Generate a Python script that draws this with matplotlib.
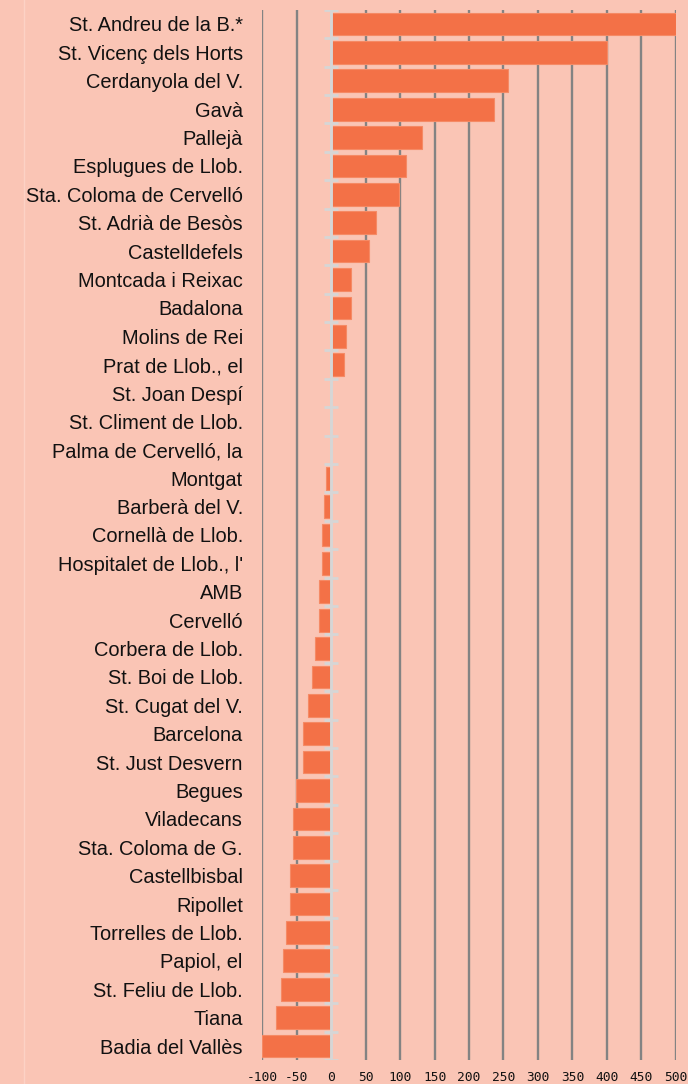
import matplotlib
matplotlib.use('Agg')
import matplotlib.pyplot as plt
from matplotlib.lines import Line2D
import numpy as np

# Municipalities, top to bottom
municipis = [
    "St. Andreu de la B.*", "St. Vicenç dels Horts", "Cerdanyola del V.", "Gavà",
    "Pallejà", "Esplugues de Llob.", "Sta. Coloma de Cervelló", "St. Adrià de Besòs",
    "Castelldefels", "Montcada i Reixac", "Badalona", "Molins de Rei",
    "Prat de Llob., el", "St. Joan Despí", "St. Climent de Llob.", "Palma de Cervelló, la",
    "Montgat", "Barberà del V.", "Cornellà de Llob.", "Hospitalet de Llob., l'",
    "AMB", "Cervelló", "Corbera de Llob.", "St. Boi de Llob.",
    "St. Cugat del V.", "Barcelona", "St. Just Desvern", "Begues",
    "Viladecans", "Sta. Coloma de G.", "Castellbisbal", "Ripollet",
    "Torrelles de Llob.", "Papiol, el", "St. Feliu de Llob.", "Tiana",
    "Badia del Vallès",
]
valors = [
    500, 400, 257, 237,
    132, 109, 99, 65,
    55, 29, 29, 22,
    19, 0, 0, 0,
    -7, -11, -14, -14,
    -17, -17, -24, -28,
    -34, -41, -41, -51,
    -55, -55, -60, -60,
    -66, -70, -73, -80,
    -100,
]
xticks = list(range(-100, 501, 50))

bg = '#FAC5B5'
bar_color = '#F37147'

fig = plt.figure(figsize=(6.88, 10.84), dpi=100, facecolor=bg)
ax = fig.add_axes([262.3 / 688, 23.8 / 1084, 413.4 / 688, 1050.4 / 1084])
ax.set_facecolor(bg)

y = np.arange(len(municipis))

# vertical gridlines (except zero, which is the axis line)
for xv in xticks:
    if xv != 0:
        ax.axvline(xv, color='#838383', lw=1.7, zorder=1)

ax.barh(y, valors, height=0.8, color=bar_color, edgecolor='#F58A65',
        linewidth=0.8, zorder=2)

# zero axis with small tick marks between categories
ax.axvline(0, color='#D6D6D6', lw=2.1, zorder=3)
bounds = np.arange(len(municipis) + 1) - 0.5
ax.hlines(bounds, -10, 10, color='#D6D6D6', lw=2.0, zorder=3)

ax.set_xlim(-100, 500)
ax.set_ylim(len(municipis) - 0.5, -0.5)

ax.set_yticks(y)
ax.set_yticklabels(municipis, fontsize=14.4, family=['Liberation Sans', 'DejaVu Sans'],
                   color='#111111')
ax.tick_params(axis='y', length=0, pad=14)

ax.set_xticks(xticks)
ax.set_xticklabels([str(v) for v in xticks], fontsize=9.3, family='DejaVu Sans Mono',
                   color='#111111')
ax.tick_params(axis='x', length=0, pad=8)

for s in ax.spines.values():
    s.set_visible(False)

# faint frame line on the left
fig.add_artist(Line2D([23.5 / 688, 23.5 / 688], [0, 1], color='#FCD2C5', lw=1.0))

fig.savefig('out.png', dpi=100, facecolor=bg)
